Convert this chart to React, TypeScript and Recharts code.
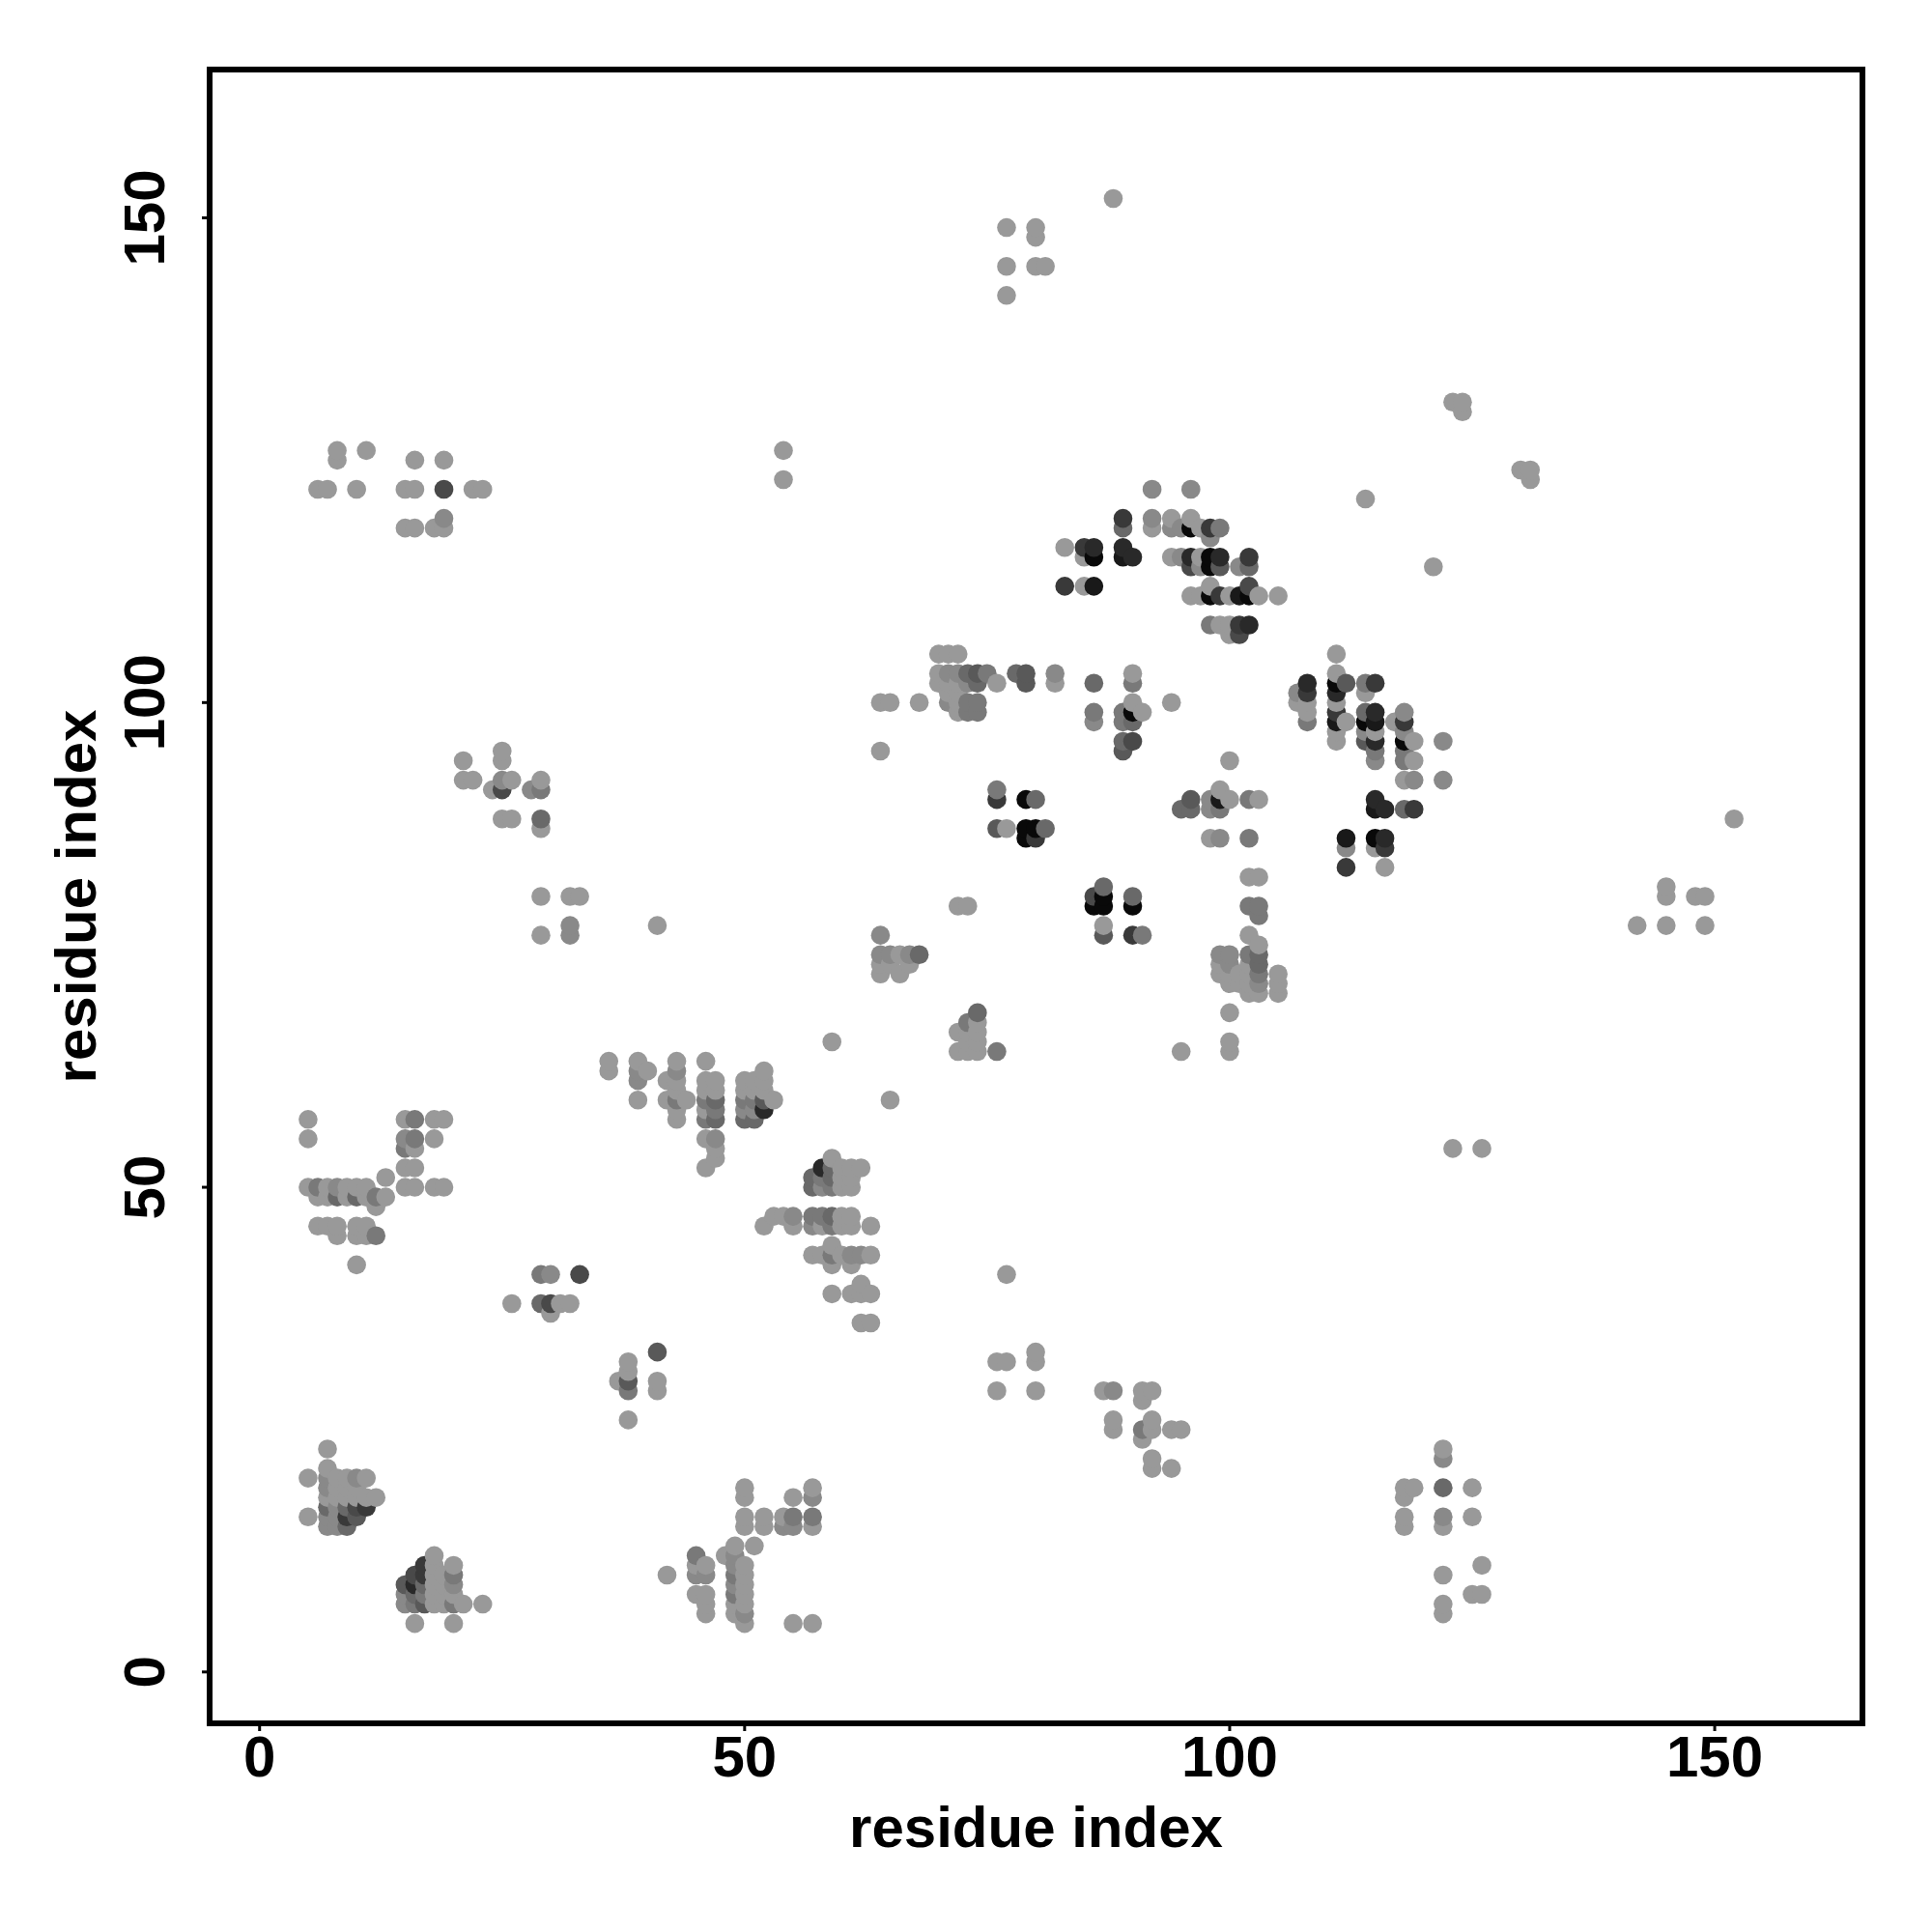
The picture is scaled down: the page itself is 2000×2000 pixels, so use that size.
import React from "react";
import { ScatterChart, Scatter, XAxis, YAxis, ReferenceArea, Label } from "recharts";

type P = number[];
// each entry: [residue i, residue j, darkness 0..9 (omitted = 0)]
const nearOriginA: P[] = [[7,23],[7,21],[5,20],[7,20,1],[8,20],[9,20],[10,20,1],[11,20],[7,19,1],[8,19],[9,19],[10,19],[7,18],[8,18],[9,18],[10,18],[11,18],[12,18],[7,17,3],[8,17,1],[9,17,3],[10,17,5],[11,17,6],[5,16],[7,16,1],[8,16,1],[9,16,6],[10,16,4],[7,15,1],[8,15,1],[9,15,3]];
const nearOriginB: P[] = [[18,12],[20,11],[17,11,6],[18,11],[16,10,5],[17,10,6],[18,10],[19,10],[20,10,2],[15,9,4],[16,9,7],[17,9,3],[18,9],[19,9],[20,9,1],[15,8,1],[16,8,3],[17,8,2],[18,8],[19,8],[20,8],[15,7,1],[16,7,2],[17,7,4],[18,7],[19,7],[20,7,2],[21,7],[23,7],[16,5],[20,5]];
const lowMid: P[] = [[42,10],[45,12,2],[45,11],[45,10,1],[46,11],[46,10,1],[45,8],[46,8],[46,7],[46,6],[48,12],[49,13],[49,12,1],[49,11,1],[49,10,2],[49,9,1],[49,8,2],[49,7],[49,6],[50,11],[50,10],[50,9],[50,8],[50,7],[50,6,1],[50,5],[51,13],[50,19],[50,18],[50,16],[50,15],[52,16],[52,15],[54,16],[54,15,1],[55,18],[55,16,2],[55,15,1],[57,19],[57,18,1],[57,16,2],[57,15],[55,5],[57,5]];
const leftFifty: P[] = [[5,57],[5,55],[5,50],[6,50,2],[7,50],[8,50,1],[9,50],[10,50],[11,50],[6,49],[7,49],[8,49,3],[9,49],[10,49,3],[11,49],[12,49,2],[13,49],[13,51],[12,48],[6,46],[7,46],[8,46],[10,46],[11,46],[8,45],[10,45],[11,45],[12,45,2],[10,42],[15,57],[16,57,2],[18,57],[19,57],[15,55,1],[16,55,2],[18,55],[15,54,2],[16,54],[15,52],[16,52],[15,50],[16,50],[18,50],[19,50]];
const thirtyForty: P[] = [[29,41,2],[30,41,1],[33,41,5],[26,38],[29,38,3],[30,38,5],[31,38],[32,38],[30,37],[38,32],[38,31],[38,30,4],[38,29,2],[38,26],[37,30],[41,33,4],[41,30],[41,29]];
const sixties: P[] = [[36,63],[36,62],[39,63],[39,62,1],[39,61,1],[39,59],[40,62],[42,61],[42,59],[43,63],[43,62,1],[43,61],[43,60],[43,59,2],[43,58],[43,57],[44,59],[46,63],[46,61],[46,60],[46,59,2],[46,58],[46,57,2],[46,55],[46,52],[47,61],[47,60],[47,59,3],[47,58,2],[47,57,3],[47,55,1],[47,54],[47,53],[50,61],[50,60],[50,59,2],[50,58,1],[50,57,3],[51,61],[51,60],[51,59,2],[51,58,1],[51,57,3],[52,62],[52,61],[52,60],[52,59,4],[52,58,7],[53,59],[59,65],[65,59]];
const fifties: P[] = [[59,53],[58,52,7],[59,52,3],[60,52],[61,52],[62,52],[57,51,3],[58,51,2],[59,51,3],[60,51],[61,51],[57,50,3],[58,50,1],[59,50,2],[60,50],[61,50],[53,47],[54,47],[55,47,1],[57,47,2],[58,47,2],[59,47,3],[60,47],[61,47],[52,46],[55,46],[57,46,1],[58,46],[59,46,2],[60,46],[61,46],[63,46],[59,44],[57,43],[58,43],[59,43,2],[60,43],[61,43,1],[62,43,1],[63,43],[59,42],[61,42],[62,40],[59,39],[61,39],[62,39],[63,39],[62,36],[63,36]];
const topLeft: P[] = [[6,122],[7,122],[10,122],[15,122],[16,122],[19,122,5],[22,122],[23,122],[8,126],[11,126],[8,125],[16,125],[19,125],[19,119,1],[15,118],[16,118],[18,118],[19,118],[54,126],[54,123]];
const farTop: P[] = [[77,149],[80,149],[80,148],[77,145],[80,145],[81,145],[77,142],[88,152],[123,131],[124,131],[124,130],[130,124],[131,124],[131,123],[114,121],[121,114]];
const isolated: P[] = [[152,88],[142,77],[145,77],[149,77],[145,81],[145,80],[148,80],[149,80],[123,54],[126,54],[41,77]];
const ninetyLeft: P[] = [[21,94],[21,92],[22,92],[25,95],[25,94],[25,92,1],[26,92],[24,91],[25,91,5],[28,91,1],[29,91,2],[29,92],[25,88],[26,88],[29,88,3],[29,87],[29,80],[29,76],[32,80],[33,80],[32,77,1],[32,76,1]];
const lowRight: P[] = [[77,41],[76,32],[77,32],[76,29],[80,33],[80,32],[80,29],[87,29],[88,29,1],[88,26],[88,25],[91,29],[92,29],[91,28],[92,26],[91,25,2],[92,25],[91,24],[94,25],[95,25],[92,22],[92,21],[94,21],[122,23],[122,22,1],[118,19],[119,19],[122,19,3],[125,19],[118,18],[118,16],[122,16,1],[125,16],[118,15],[122,15],[126,11],[122,10],[125,8],[126,8],[122,7],[122,6]];
const midSeventies: P[] = [[74,68,3],[73,67,2],[74,67],[72,66],[73,66],[74,66],[73,65],[74,65],[72,64],[73,64],[74,64],[76,64,2],[95,64],[100,68],[100,65],[100,64],[64,76,1],[64,74,1],[65,74,1],[66,74],[67,74,1],[68,74,3],[64,73],[65,73],[67,73],[64,72],[66,72]];
const blackEighties: P[] = [[86,80,5],[86,79,9],[87,81,3],[87,80,9],[87,79,9],[87,77],[87,76,4],[90,80,3],[90,79,9],[90,76,6],[91,76,2],[76,91,2],[76,90,6],[79,90,9],[80,90,3],[76,87,4],[77,87],[79,87,9],[80,87,9],[81,87,3],[79,86,9],[80,86,6],[72,79],[73,79]];
const rightEighties: P[] = [[102,82],[103,82],[102,79,2],[103,79,2],[103,78,2],[102,76],[103,75],[102,74,2],[103,74,3],[99,74,1],[100,74,1],[99,73],[100,73,1],[102,73],[103,73,3],[99,72],[100,72],[101,72],[102,72],[103,72,2],[105,72],[100,71],[101,71],[102,71],[103,71,1],[105,71],[102,70],[103,70],[105,70],[95,89,3],[96,90,4],[96,89,3],[98,90,1],[98,89,1],[99,91],[99,90,8],[99,89,2],[100,90],[100,94],[102,90,2],[103,90],[98,86],[99,86,1],[102,86,2],[94,100]];
const hundredLeft: P[] = [[70,105],[71,105],[72,105],[70,103],[71,103,1],[72,103,1],[73,103,3],[74,103,4],[75,103,2],[70,102],[71,102],[72,102],[73,102,1],[74,102,3],[76,102],[71,101],[72,101],[71,100,1],[72,100],[73,100,2],[74,100,2],[68,100],[72,99],[73,99,2],[74,99,2],[78,103,3],[79,103,4],[79,102,4],[82,103,1],[82,102],[86,102,3],[86,99,2],[86,98,1],[90,103],[90,102,2],[90,100],[90,99,9],[90,98,3],[89,99,2],[89,98,2],[89,96,3],[89,95,4],[90,96,5],[91,99],[64,100],[65,100],[64,95]];
const topArc: P[] = [[92,122,1],[96,122,1],[89,119,6],[92,119,1],[94,119],[96,119],[89,118,3],[92,118],[94,118,1],[95,118,1],[96,118,9],[97,118],[98,118,6],[99,118,2],[98,117,1],[83,116],[85,116,6],[86,116,7],[89,116,7],[85,115],[86,115,9],[89,115,8],[90,115,7],[94,115],[95,115,1],[96,115,7],[97,115],[98,115,9],[99,115,7],[102,115,6],[96,114,5],[97,114,1],[98,114,9],[99,114,4],[101,114,1],[102,114,3],[83,112,6],[85,112],[86,112,8],[98,112],[102,112,5],[96,111],[97,111],[98,111,9],[99,111,6],[100,111],[101,111,8],[102,111,9],[103,111],[105,111],[98,108,2],[99,108],[100,108],[101,108,6],[102,108,7],[100,107],[101,107,5]];
const rightHundred: P[] = [[108,102,7],[108,101,6],[108,100],[108,99],[108,98,2],[107,101,1],[107,100],[111,105],[111,103],[111,102,9],[111,101,7],[111,100],[111,99,6],[111,98,8],[111,97],[111,96],[112,102,4],[112,98],[114,102,2],[114,101],[114,99,3],[114,98,9],[114,97,1],[114,96,4],[115,102,6],[115,99,7],[115,98,8],[115,97],[115,96,7],[115,95,2],[115,94,1],[117,98],[118,99,1],[118,98,6],[118,97,1],[118,96,9],[118,95,2],[118,94,2],[118,92],[118,89,3],[119,96],[119,94],[119,92,1],[119,89,6],[122,96,1],[122,92,1],[115,90,7],[115,89,8],[116,89,7],[112,86,8],[115,86,9],[116,86,7],[112,85,1],[115,85],[116,85,6],[112,83,6],[116,83]];

const clusters: P[][] = [nearOriginA, nearOriginB, lowMid, leftFifty, thirtyForty, sixties, fifties, topLeft, farTop, isolated, ninetyLeft, lowRight, midSeventies, blackEighties, rightEighties, hundredLeft, topArc, rightHundred];
const ticks = [0, 50, 100, 150];
const xDomain = [-5.15, 165.23];
const yDomain = [-5.3, 165.3];

const points = clusters.flat().map((p) => ({ x: p[0], y: p[1], dark: p[2] ?? 0 })).sort((a, b) => a.x - b.x || a.y - b.y);
const FONT = "'Liberation Sans', Arial, sans-serif";

const Dot = (props: any) => {
  const g = 153 - 16 * props.payload.dark;
  return <circle cx={props.cx} cy={props.cy} r={9.8} fill={`rgb(${g},${g},${g})`} />;
};
const XTick = (props: any) => (
  <text x={props.x} y={props.y + 45} textAnchor="middle" fontFamily={FONT} fontWeight="bold" fontSize={60} fill="#000">{props.payload.value}</text>
);
const YTick = (props: any) => (
  <text transform={`translate(${props.x - 37},${props.y}) rotate(-90)`} textAnchor="middle" fontFamily={FONT} fontWeight="bold" fontSize={60} fill="#000">{props.payload.value}</text>
);

export default function App() {
  return (
    <div style={{ position: "absolute", left: 0, top: 0, width: 2000, height: 2000, background: "#fff" }}>
      <ScatterChart width={2000} height={2000} margin={{ top: 72, right: 72, bottom: 0, left: 0 }}>
        <XAxis type="number" dataKey="x" domain={xDomain} ticks={ticks} height={216} axisLine={false} tick={<XTick />} tickLine={{ stroke: "#000", strokeWidth: 3 }} tickSize={8} interval={0} allowDataOverflow>
          <Label value="residue index" position="insideBottom" offset={88} fontFamily={FONT} fontWeight="bold" fontSize={60} fill="#000" />
        </XAxis>
        <YAxis type="number" dataKey="y" domain={yDomain} ticks={ticks} width={217} axisLine={false} tick={<YTick />} tickLine={{ stroke: "#000", strokeWidth: 3 }} tickSize={8} interval={0} allowDataOverflow>
          <Label value="residue index" angle={-90} position="insideLeft" offset={78} fontFamily={FONT} fontWeight="bold" fontSize={60} fill="#000" style={{ textAnchor: "middle" }} />
        </YAxis>
        <Scatter data={points} isAnimationActive={false} shape={<Dot />} />
        <ReferenceArea x1={xDomain[0]} x2={xDomain[1]} y1={yDomain[0]} y2={yDomain[1]} fill="none" stroke="#000" strokeWidth={6} ifOverflow="visible" />
      </ScatterChart>
    </div>
  );
}
